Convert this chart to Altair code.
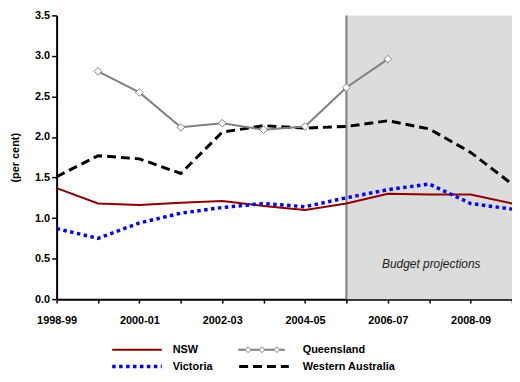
import altair as alt
import pandas as pd

years = ['1998-99', '1999-00', '2000-01', '2001-02', '2002-03', '2003-04',
         '2004-05', '2005-06', '2006-07', '2007-08', '2008-09', '2009-10']
nsw = [1.37, 1.18, 1.16, 1.19, 1.21, 1.15, 1.10, 1.18, 1.30, 1.29, 1.29, 1.18]
vic = [0.87, 0.75, 0.94, 1.06, 1.13, 1.18, 1.14, 1.25, 1.35, 1.42, 1.18, 1.11]
qld = [None, 2.81, 2.55, 2.12, 2.17, 2.09, 2.13, 2.61, 2.96, None, None, None]
wa = [1.51, 1.77, 1.73, 1.55, 2.06, 2.14, 2.11, 2.13, 2.20, 2.10, 1.81, 1.42]
series_names = ['NSW', 'Victoria', 'Queensland', 'Western Australia']
projection_start = '2005-06'
note_text = 'Budget projections'

FONT = 'Liberation Sans'
n = len(years)
idx = list(range(n))


def frame(vals):
    df = pd.DataFrame({'i': idx, 'year': years, 'v': vals})
    return df.dropna()


label_arr = '[' + ','.join("'" + y + "'" for y in years) + ']'
x_enc = alt.X('i:Q', scale=alt.Scale(domain=[0, n - 1], nice=False, zero=False),
              axis=alt.Axis(values=idx, title=None, grid=False,
                            labelExpr=f"datum.value % 2 == 0 ? {label_arr}[datum.value] : ''",
                            labelOverlap=False, labelFlush=False, tickSize=4,
                            labelPadding=12))
y_enc = alt.Y('v:Q', scale=alt.Scale(domain=[0, 3.5], nice=False),
              axis=alt.Axis(values=[0, 0.5, 1, 1.5, 2, 2.5, 3, 3.5], format='.1f',
                            title='(per cent)', grid=False, tickSize=5,
                            labelPadding=2, titlePadding=14))

ps = years.index(projection_start)
shade_df = pd.DataFrame({'i': [ps], 'i2': [n - 1], 'v': [0.0], 'v2': [3.5]})
shade = alt.Chart(shade_df).mark_rect(color='#dcdcdc').encode(
    x=x_enc, x2='i2:Q', y=y_enc, y2='v2:Q')
vline = alt.Chart(shade_df).mark_rule(color='#7f7f7f', strokeWidth=2).encode(
    x='i:Q', y='v:Q', y2='v2:Q')

l_nsw = alt.Chart(frame(nsw)).mark_line(color='#8b0000', strokeWidth=2).encode(x='i:Q', y='v:Q')
l_vic = alt.Chart(frame(vic)).mark_line(color='#0000ff', strokeWidth=3.5,
                                        strokeDash=[3.5, 3.5]).encode(x='i:Q', y='v:Q')
l_wa = alt.Chart(frame(wa)).mark_line(color='#000000', strokeWidth=3,
                                      strokeDash=[9, 5]).encode(x='i:Q', y='v:Q')
l_qld = alt.Chart(frame(qld)).mark_line(color='#808080', strokeWidth=2).encode(x='i:Q', y='v:Q')
p_qld = alt.Chart(frame(qld)).mark_point(shape='diamond', filled=True, fill='white',
                                         stroke='#808080', strokeWidth=1, size=60,
                                         opacity=1).encode(x='i:Q', y='v:Q')

note_df = pd.DataFrame({'i': [9.05], 'v': [0.43], 't': [note_text]})
note = alt.Chart(note_df).mark_text(font=FONT, fontSize=12, fontStyle='italic',
                                    color='#222222', align='center',
                                    baseline='middle').encode(x='i:Q', y='v:Q', text='t:N')

# legend (drawn manually below the plot)
leg_df = pd.DataFrame({'a': [0]})


def leg_line(x1, x2, y, **kw):
    return alt.Chart(leg_df).mark_rule(**kw).encode(
        x=alt.value(x1), x2=alt.value(x2), y=alt.value(y))


def leg_text(x, y, t):
    return alt.Chart(leg_df).mark_text(font=FONT, fontSize=11, fontWeight='bold',
                                       align='left', baseline='middle',
                                       color='black').encode(
        x=alt.value(x), y=alt.value(y), text=alt.value(t))


r1, r2 = 337, 354
legend_layers = [
    leg_line(56, 106, r1, color='#8b0000', strokeWidth=2),
    leg_text(117, r1, series_names[0]),
    leg_line(56, 106, r2, color='#0000ff', strokeWidth=3.5, strokeDash=[3.5, 3.5]),
    leg_text(117, r2, series_names[1]),
    leg_line(183, 230, r1, color='#808080', strokeWidth=2),
    leg_text(248, r1, series_names[2]),
    leg_line(184, 234, r2, color='#000000', strokeWidth=3, strokeDash=[9, 5]),
    leg_text(248, r2, series_names[3]),
]
for dx in [193, 207, 222]:
    legend_layers.append(
        alt.Chart(leg_df).mark_point(shape='diamond', filled=True, fill='white',
                                     stroke='#808080', strokeWidth=1, size=35,
                                     opacity=1).encode(x=alt.value(dx), y=alt.value(r1)))

chart = alt.layer(shade, vline, l_nsw, l_vic, l_wa, l_qld, p_qld, note,
                  *legend_layers).properties(
    width=459, height=286,
    autosize=alt.AutoSizeParams(type='none'),
    padding={'left': 49, 'top': 6, 'right': 0, 'bottom': 74},
).configure_view(stroke=None).configure_axis(
    labelFont=FONT, labelFontSize=11, labelFontWeight='bold', labelColor='black',
    titleFont=FONT, titleFontSize=11, titleFontWeight='bold', titleColor='black',
    domainColor='black', domainWidth=2, tickColor='black', tickWidth=1.5,
)

chart.save('out.html', embed_options={'renderer': 'svg', 'actions': False})
